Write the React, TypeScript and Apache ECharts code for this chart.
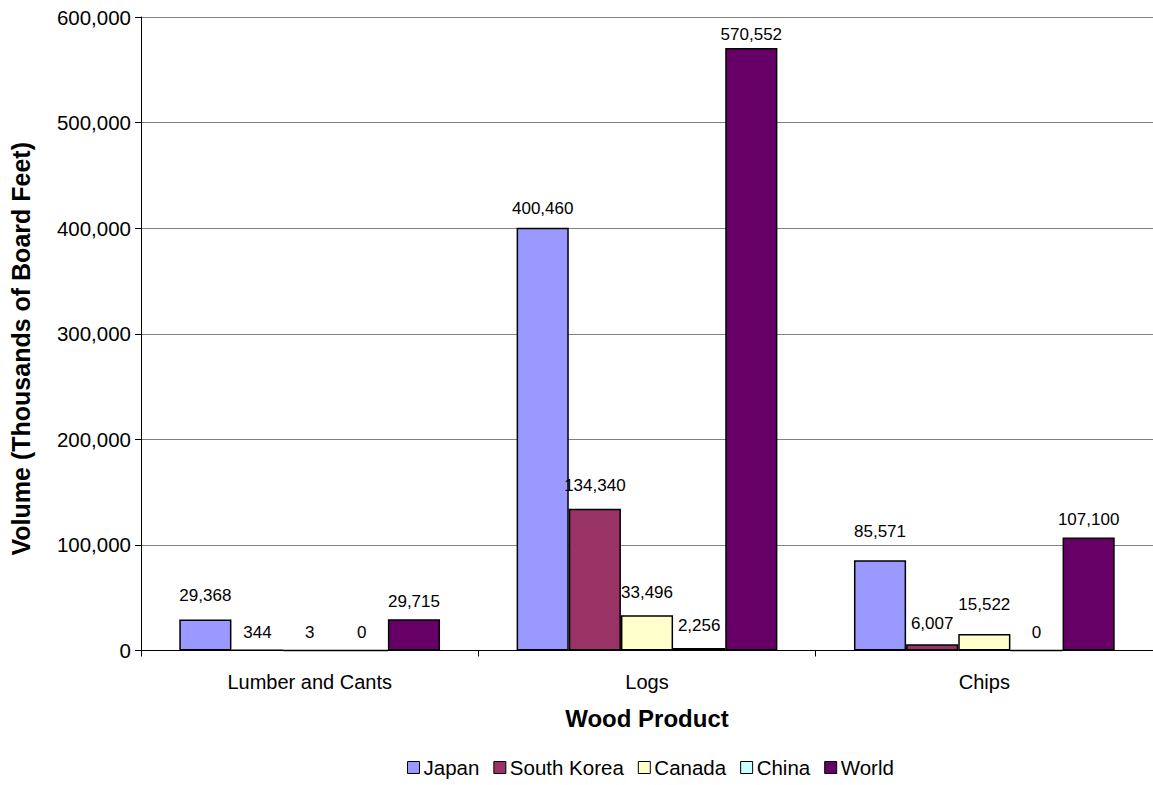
import React, { useEffect, useRef } from "react";
import * as echarts from "echarts";

const categories = ["Lumber and Cants", "Logs", "Chips"];
const seriesNames = ["Japan", "South Korea", "Canada", "China", "World"];
const japan = [29368, 400460, 85571];
const southKorea = [344, 134340, 6007];
const canada = [3, 33496, 15522];
const china = [0, 2256, 0];
const world = [29715, 570552, 107100];
const yTicks = [0, 100000, 200000, 300000, 400000, 500000, 600000];

const seriesValues = [japan, southKorea, canada, china, world];
const colors = ["#9999FF", "#993366", "#FFFFCC", "#CCFFFF", "#660066"];
// Extra lift for individual value labels so they sit clear of neighbours
const labelLift = [
  [15, 8.5, 9, 9, 8.7],
  [11, 14.5, 14, 14.5, 5.5],
  [20.5, 12.5, 21.5, 9, 9.5],
];

const FONT = "Arial, 'Liberation Sans', sans-serif";
const fmt = (v: number) => v.toLocaleString("en-US");

export default function App() {
  const ref = useRef<HTMLDivElement>(null);
  useEffect(() => {
    if (!ref.current) return;
    const chart = echarts.init(ref.current, undefined, { renderer: "svg" });
    chart.setOption({
      animation: false,
      backgroundColor: "#ffffff",
      textStyle: { fontFamily: FONT, color: "#000" },
      grid: { left: 138, top: 17, width: 1019, height: 633.5 },
      legend: {
        bottom: 2,
        left: 402,
        icon: "rect",
        itemWidth: 12,
        itemHeight: 12,
        itemGap: 14,
        data: seriesNames,
        itemStyle: { borderColor: "#000", borderWidth: 1 },
        textStyle: { fontFamily: FONT, fontSize: 20.5, color: "#000", padding: [0, 0, 0, -1] },
      },
      xAxis: {
        type: "category",
        data: categories,
        name: "Wood Product",
        nameLocation: "middle",
        nameGap: 56,
        nameTextStyle: { fontFamily: FONT, fontSize: 24, fontWeight: "bold", color: "#000" },
        axisLine: { lineStyle: { color: "#000", width: 1 } },
        axisTick: { show: true, length: 6, alignWithLabel: false, lineStyle: { color: "#000" } },
        axisLabel: { fontFamily: FONT, fontSize: 20, color: "#000", margin: 21 },
      },
      yAxis: {
        type: "value",
        min: 0,
        max: yTicks[yTicks.length - 1],
        interval: yTicks[1] - yTicks[0],
        name: "Volume (Thousands of Board Feet)",
        nameLocation: "middle",
        nameGap: 108,
        nameTextStyle: {
          fontFamily: FONT,
          fontSize: 25,
          fontWeight: "bold",
          color: "#000",
          padding: [0, 30, 0, 0],
        },
        axisLine: { show: true, lineStyle: { color: "#000", width: 1 } },
        axisTick: { show: true, length: 6, lineStyle: { color: "#000" } },
        axisLabel: { fontFamily: FONT, fontSize: 20.5, color: "#000", margin: 10, formatter: (v: number) => fmt(v) },
        splitLine: { show: true, lineStyle: { color: "#808080", width: 1 } },
      },
      series: seriesNames.map((name, si) => ({
        name,
        type: "bar",
        barGap: "0%",
        barCategoryGap: "22.7%",
        itemStyle: { color: colors[si], borderColor: "#000", borderWidth: 1.5 },
        data: seriesValues[si].map((v, ci) => ({
          value: v,
          label: {
            show: true,
            position: "top",
            distance: labelLift[ci][si],
            fontFamily: FONT,
            fontSize: 17,
            color: "#000",
            formatter: (p: any) => fmt(p.value),
          },
        })),
      })),
    });
    return () => chart.dispose();
  }, []);
  return (
    <div
      ref={ref}
      style={{ position: "fixed", left: 0, top: 0, width: 1153, height: 785, background: "#fff" }}
    />
  );
}
